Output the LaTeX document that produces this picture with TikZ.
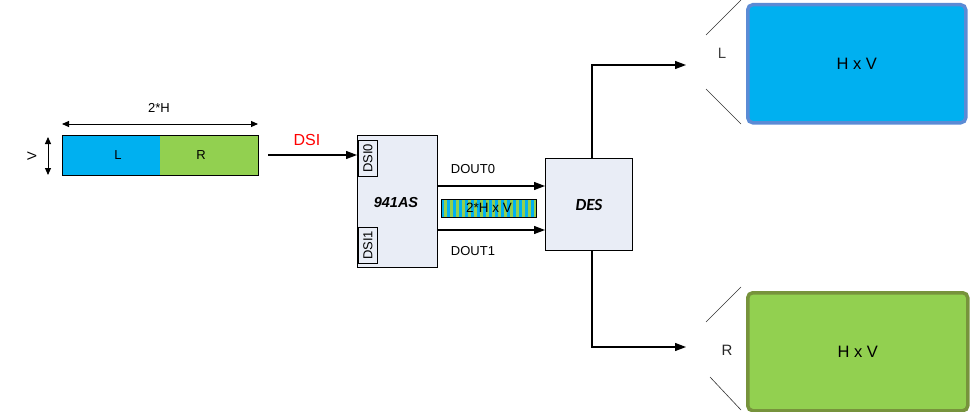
\documentclass[tikz,border=0pt]{standalone}
\usepackage{fontspec}
\setmainfont{Liberation Sans}
\newfontfamily\carlitofont{Carlito}
\usetikzlibrary{arrows.meta}
\definecolor{cblue}{HTML}{00B0F0}
\definecolor{cgreen}{HTML}{92D050}
\definecolor{boxfill}{HTML}{E9EDF6}
\definecolor{bborder}{HTML}{5B8BD5}
\definecolor{gborder}{HTML}{77933C}
\begin{document}
\begin{tikzpicture}[x=1pt,y=-1pt,
  lbl/.style={font=\fontsize{13}{14}\selectfont, inner sep=0pt},
  big/.style={font=\fontsize{16.5}{17}\selectfont, inner sep=0pt},
  conn/.style={line width=1.2pt, -{Triangle[length=11pt,width=8pt]}},
  dimarr/.style={line width=0.9pt, {Triangle[length=7pt,width=6pt]}-{Triangle[length=7pt,width=6pt]}},
  chip/.style={draw=black, fill=boxfill, line width=0.8pt, inner sep=0pt},
  thin/.style={line width=0.6pt, draw=black!80}
]
\useasboundingbox (0,0) rectangle (970,412);
% left bar
\node[fill=cblue, draw=none, minimum width=98pt, minimum height=40pt, anchor=north west, inner sep=0pt] (L) at (62,135) {};
\node[fill=cgreen, draw=none, minimum width=98pt, minimum height=40pt, anchor=north west, inner sep=0pt] (R) at (160,135) {};
\draw[line width=0.9pt] (62,135) rectangle (258,175);
\node[lbl] (Lt) at (118,155) {L};
\node[lbl] (Rt) at (201,155) {R};
% dimension arrows
\coordinate (hA) at (62,124); \coordinate (hB) at (258,124);
\draw[dimarr] (hA) -- (hB);
\node[lbl] (hlab) at (159,108) {2*H};
\coordinate (vA) at (48,137); \coordinate (vB) at (48,175);
\draw[dimarr] (vA) -- (vB);
\node[lbl, rotate=90] (vlab) at (32,156) {V};
% 941AS
\node[chip, minimum width=80pt, minimum height=132pt, anchor=north west] (ser) at (357,135) {};
\node[font=\fontsize{14.5}{15}\selectfont\bfseries\itshape, inner sep=0pt] (sert) at (396,203) {941AS};
\node[draw, line width=0.6pt, fill=boxfill, minimum width=19pt, minimum height=36pt, anchor=north west, inner sep=0pt] (dsi0) at (358,140) {};
\node[rotate=90, font=\fontsize{13}{14}\selectfont, inner sep=0pt] at (dsi0.center) {DSI0};
\node[draw, line width=0.6pt, fill=boxfill, minimum width=19pt, minimum height=36pt, anchor=north west, inner sep=0pt] (dsi1) at (358,227) {};
\node[rotate=90, font=\fontsize{13}{14}\selectfont, inner sep=0pt] at (dsi1.center) {DSI1};
% DSI input
\coordinate (dsiin) at (268,155);
\draw[conn] (dsiin) -- (dsiin -| ser.west);
\node[font=\fontsize{16}{17}\selectfont, text=red, inner sep=0pt] (dsil) at (307,140) {DSI};
% DES
\node[chip, minimum width=87pt, minimum height=92pt, anchor=north west] (des) at (545,158) {};
\node[font=\carlitofont\fontsize{17}{18}\selectfont\bfseries\itshape, inner sep=0pt] at (589,205) {DES};
% DOUT arrows
\coordinate (d0) at (437,186); \coordinate (d1) at (437,230);
\draw[conn] (d0) -- (d0 -| des.west);
\draw[conn] (d1) -- (d1 -| des.west);
\node[lbl] (d0l) at (473,169) {DOUT0};
\node[lbl] (d1l) at (473,251) {DOUT1};
% striped bar
\begin{scope}
\clip (441,199) rectangle (536,217);
\fill[cgreen] (441,199) rectangle (536,217);
\foreach \i in {0,...,16} {
  \fill[cblue] ({441+\i*6},199) rectangle ({444+\i*6},217);
}
\end{scope}
\draw[line width=0.8pt] (441,199) rectangle (536,217);
\node[font=\fontsize{13.5}{14}\selectfont, inner sep=0pt] (sbl) at (489,208) {2*H x V};
% outputs
\coordinate (oT) at (686,65); \coordinate (oB) at (686,347);
\coordinate (dn) at (592,158); \coordinate (ds) at (592,250);
\draw[conn] (dn) -- (dn |- oT) -- (oT);
\draw[conn] (ds) -- (ds |- oB) -- (oB);
% screens
\node[draw=bborder, line width=3.5pt, fill=cblue, rounded corners=5pt, minimum width=218pt, minimum height=118pt, anchor=north west, inner sep=0pt] (scrL) at (746,3) {};
\node[big] at (scrL.center) {H x V};
\node[draw=gborder, line width=3.5pt, fill=cgreen, rounded corners=5pt, minimum width=220pt, minimum height=118pt, anchor=north west, inner sep=0pt] (scrR) at (746,291) {};
\node[big] at (scrR.center) {H x V};
\node[big, font=\fontsize{15}{16}\selectfont, text=black!75] (lL) at (722,53) {L};
\node[big, font=\fontsize{15}{16}\selectfont, text=black!85] (lR) at (727,350) {R};
\draw[thin] (706,35) -- (741,0);
\draw[thin] (706,89) -- (741,124);
\draw[thin] (706,322) -- (741,287);
\draw[thin] (710,377) -- (741,410);
\end{tikzpicture}
\end{document}
